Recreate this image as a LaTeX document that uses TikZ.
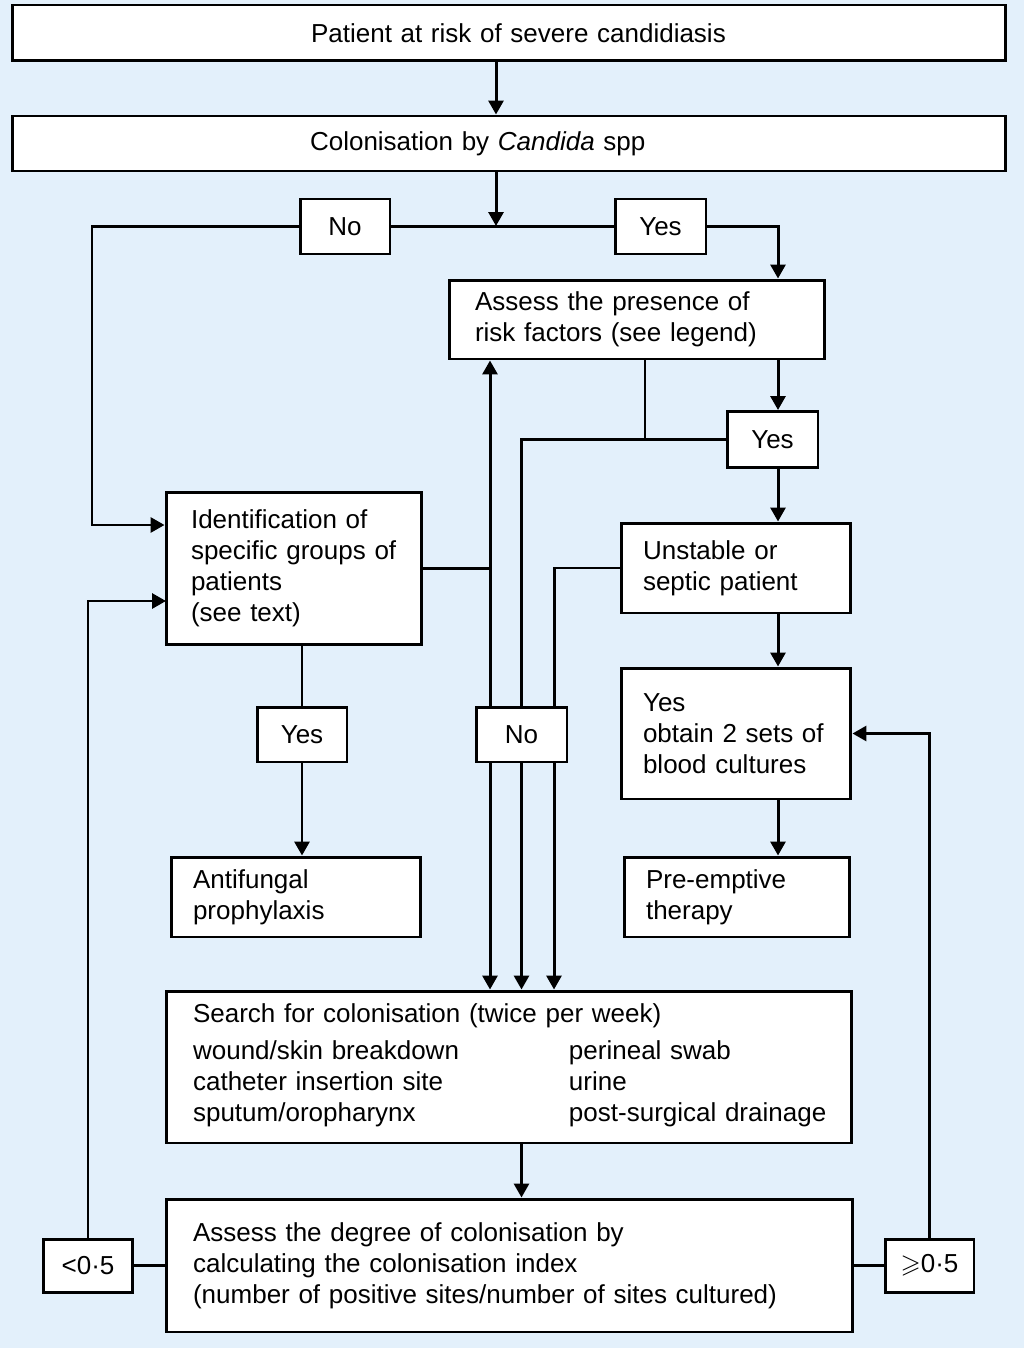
\documentclass[tikz,border=0pt]{standalone}
\usepackage{amssymb}
\usepackage{fontspec}
\setmainfont{Liberation Sans}
\usetikzlibrary{arrows.meta,positioning}
\definecolor{paleblue}{HTML}{E3F0FB}
\newcommand{\flowfont}{\fontsize{14.8}{17.6}\selectfont}
\tikzset{
  box/.style={draw, fill=white, line width=1.7pt, inner sep=0pt, font=\flowfont},
  txtbox/.style={box, align=left},
  tag/.style={box, minimum width=1.8cm, minimum height=1.1cm},
  link/.style={line width=1.7pt},
  arr/.style={link, -{Triangle[length=0.28cm, width=0.3cm]}},
}

\begin{document}
\begin{tikzpicture}[x=0.02cm, y=-0.02cm]
    \fill[paleblue] (0,0) rectangle (1024,1348);

    % Top of the chart
    \node[txtbox, minimum width=19.88cm, minimum height=1.12cm, text width=19.88cm] (top) at (509,33) {\hspace*{5.98cm}Patient at risk of severe candidiasis};
    \node[txtbox, minimum width=19.88cm, minimum height=1.10cm, text width=19.88cm] (colon) at (509,143.5) {\hspace*{5.96cm}Colonisation by \textit{Candida} spp};
    \coordinate (split) at (496,226);
    \node[tag] (noA) at (345,226.5) {No};
    \node[tag, minimum width=1.82cm] (yesA) at (660.5,226.5) {Yes};

    % Risk factor branch
    \node[txtbox, minimum width=7.52cm, minimum height=1.58cm, text width=6.48cm] (risk) at (637,319.5) {Assess the presence of\\risk factors (see legend)};
    \node[tag, minimum width=1.82cm, minimum height=1.12cm] (yesB) at (772.5,439.5) {Yes};
    \node[txtbox, minimum width=4.6cm, minimum height=1.8cm, text width=3.72cm] (unstable) at (736,568) {Unstable or\\septic patient};
    \node[txtbox, minimum width=4.6cm, minimum height=2.62cm, text width=3.72cm] (cultures) at (736,733.5) {Yes\\obtain 2 sets of\\blood cultures};
    \node[txtbox, minimum width=4.52cm, minimum height=1.6cm, text width=3.64cm] (preempt) at (737,897) {Pre-emptive\\therapy};

    % Specific groups branch
    \node[txtbox, minimum width=5.12cm, minimum height=3.06cm, text width=4.12cm] (ident) at (294,568.5) {Identification of\\specific groups of\\patients\\(see text)};
    \node[tag] (yesC) at (302,734.5) {Yes};
    \node[txtbox, minimum width=5cm, minimum height=1.6cm, text width=4.12cm] (prophy) at (296,897) {Antifungal\\prophylaxis};
    \node[tag, minimum width=1.82cm] (noB) at (521.5,734.5) {No};

    % Colonisation survey
    \node[txtbox, minimum width=13.72cm, minimum height=3.04cm, text width=12.64cm] (search) at (509,1067) {Search for colonisation (twice per week)\\[5pt]
      \begin{tabular}{@{}p{7.52cm}@{}l@{}}
        wound/skin breakdown & perineal swab\\
        catheter insertion site & urine\\
        sputum/oropharynx & post-surgical drainage
      \end{tabular}};
    \node[txtbox, minimum width=13.74cm, minimum height=2.66cm, text width=12.66cm] (index) at (509.5,1265.5) {Assess the degree of colonisation by\\calculating the colonisation index\\(number of positive sites/number of sites cultured)};
    \node[tag, minimum height=1.06cm] (low) at (88,1265.5) {<0·5};
    \node[tag, minimum width=1.78cm, minimum height=1.06cm] (high) at (929.5,1265.5) {$\geqslant$0·5};

    % Lanes
    \coordinate (rcol) at (778,0);
    \coordinate (lcol) at (92,525);
    \coordinate (laneL) at (490,0);
    \coordinate (laneR) at (554,0);
    \coordinate (tap) at (645,439.5);
    \coordinate (lowin) at (166,601);

    % Connectors
    \draw[arr] (top.south -| split) -- (colon.north -| split);
    \draw[arr] (colon.south -| split) -- (split);
    \draw[link] (noA.east) -- (yesA.west);
    \draw[arr] (yesA.east) -| (risk.north -| rcol);
    \draw[arr] (noA.west) -| (lcol) -- (lcol -| ident.west);
    \draw[arr] (risk.south -| rcol) -- (yesB.north -| rcol);
    \draw[line width=0.6pt] (risk.south -| tap) -- (tap);
    \draw[link] (yesB.west) -| (noB.north);
    \draw[arr] (yesB.south -| rcol) -- (unstable.north -| rcol);
    \draw[arr] (unstable.south -| rcol) -- (cultures.north -| rcol);
    \draw[arr] (cultures.south -| rcol) -- (preempt.north -| rcol);
    \draw[link] (unstable.west) -| (noB.north -| laneR);
    \draw[link] (ident.east) -| (noB.north -| laneL);
    \draw[arr] (ident.east -| laneL) -- (risk.south -| laneL);
    \draw[arr] (noB.south -| laneL) -- (search.north -| laneL);
    \draw[arr] (noB.south) -- (search.north -| noB);
    \draw[arr] (noB.south -| laneR) -- (search.north -| laneR);
    \draw[link] (ident.south -| yesC) -- (yesC.north);
    \draw[arr] (yesC.south) -- (prophy.north -| yesC);
    \draw[arr] (search.south -| noB) -- (index.north -| noB);
    \draw[link] (index.west) -- (low.east);
    \draw[link] (index.east) -- (high.west);
    \draw[arr] (low.north) |- (lowin);
    \draw[arr] (high.north) |- (cultures.east);
\end{tikzpicture}
\end{document}
